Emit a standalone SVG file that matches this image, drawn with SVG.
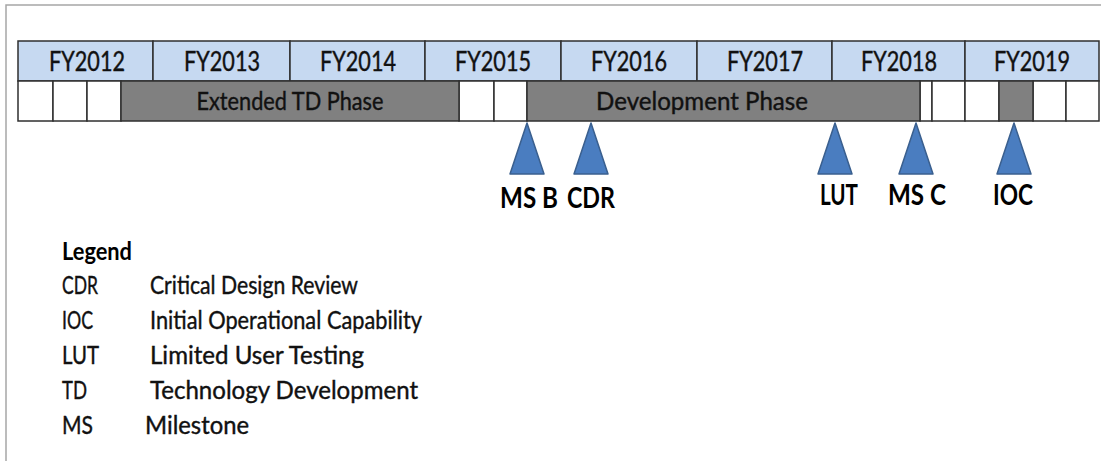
<svg xmlns="http://www.w3.org/2000/svg" width="1101" height="461" viewBox="0 0 1101 461">
<style>
.frame{stroke:#a6a6a6;stroke-width:1.5;fill:none}
.hdr{fill:#c6d9f1;stroke:#2f2f2f;stroke-width:1.5}
.cell{fill:#ffffff;stroke:#2f2f2f;stroke-width:1.5}
.ph{fill:#808080;stroke:#2f2f2f;stroke-width:1.5}
.tri{fill:#4a7dc0;stroke:#3a5f8e;stroke-width:1.5;stroke-linejoin:round}
.yr{font-family:Lato,"Liberation Sans",sans-serif;font-size:26px;fill:#111;stroke:#111;stroke-width:0.4;text-anchor:middle}
.phl{font-family:Lato,"Liberation Sans",sans-serif;font-size:25px;fill:#111;stroke:#111;stroke-width:0.4;text-anchor:middle}
.ms{font-family:Lato,"Liberation Sans",sans-serif;font-size:29px;font-weight:bold;fill:#000;text-anchor:middle}
.lg{font-family:Lato,"Liberation Sans",sans-serif;font-size:25px;fill:#111;stroke:#111;stroke-width:0.4}
.lgb{font-family:Lato,"Liberation Sans",sans-serif;font-size:25px;font-weight:bold;fill:#000}
</style>
<path class="frame" d="M6,461 V5 H1101"/>
<g id="years">
<rect class="hdr" x="18" y="41" width="135" height="40"/>
<rect class="hdr" x="153" y="41" width="137" height="40"/>
<rect class="hdr" x="290" y="41" width="135" height="40"/>
<rect class="hdr" x="425" y="41" width="136" height="40"/>
<rect class="hdr" x="561" y="41" width="136" height="40"/>
<rect class="hdr" x="697" y="41" width="135" height="40"/>
<rect class="hdr" x="832" y="41" width="133" height="40"/>
<rect class="hdr" x="965" y="41" width="134" height="40"/>
<text class="yr" x="87" y="71" textLength="76" lengthAdjust="spacingAndGlyphs">FY2012</text>
<text class="yr" x="222" y="71" textLength="76" lengthAdjust="spacingAndGlyphs">FY2013</text>
<text class="yr" x="358" y="71" textLength="76" lengthAdjust="spacingAndGlyphs">FY2014</text>
<text class="yr" x="493" y="71" textLength="76" lengthAdjust="spacingAndGlyphs">FY2015</text>
<text class="yr" x="629" y="71" textLength="76" lengthAdjust="spacingAndGlyphs">FY2016</text>
<text class="yr" x="765" y="71" textLength="76" lengthAdjust="spacingAndGlyphs">FY2017</text>
<text class="yr" x="899" y="71" textLength="76" lengthAdjust="spacingAndGlyphs">FY2018</text>
<text class="yr" x="1032" y="71" textLength="76" lengthAdjust="spacingAndGlyphs">FY2019</text>
</g>
<g id="quarters">
<rect class="cell" x="18" y="81" width="35" height="40"/>
<rect class="cell" x="53" y="81" width="34" height="40"/>
<rect class="cell" x="87" y="81" width="34" height="40"/>
<rect class="cell" x="459" y="81" width="35" height="40"/>
<rect class="cell" x="494" y="81" width="33" height="40"/>
<rect class="cell" x="920" y="81" width="12" height="40"/>
<rect class="cell" x="932" y="81" width="33" height="40"/>
<rect class="cell" x="965" y="81" width="34" height="40"/>
<rect class="cell" x="1033" y="81" width="33" height="40"/>
<rect class="cell" x="1066" y="81" width="33" height="40"/>
</g>
<g id="extended-td-phase">
<rect class="ph" x="121" y="81" width="338" height="40"/>
<text class="phl" x="290" y="110" textLength="187" lengthAdjust="spacingAndGlyphs">Extended TD Phase</text>
</g>
<g id="development-phase">
<rect class="ph" x="527" y="81" width="393" height="40"/>
<text class="phl" x="702" y="110" textLength="212" lengthAdjust="spacingAndGlyphs">Development Phase</text>
</g>
<g id="ioc-bar">
<rect class="ph" x="999" y="81" width="34" height="40"/>
</g>
<g id="ms-b">
<polygon class="tri" points="527,123 544,174 510,174"/>
<text class="ms" x="529" y="208" textLength="58" lengthAdjust="spacingAndGlyphs">MS B</text>
</g>
<g id="cdr">
<polygon class="tri" points="591,123 608,174 574,174"/>
<text class="ms" x="591" y="208" textLength="48" lengthAdjust="spacingAndGlyphs">CDR</text>
</g>
<g id="lut">
<polygon class="tri" points="835,123 852,174 818,174"/>
<text class="ms" x="839" y="205" textLength="38" lengthAdjust="spacingAndGlyphs">LUT</text>
</g>
<g id="ms-c">
<polygon class="tri" points="916,123 933,174 899,174"/>
<text class="ms" x="917" y="205" textLength="58" lengthAdjust="spacingAndGlyphs">MS C</text>
</g>
<g id="ioc">
<polygon class="tri" points="1014,123 1031,174 997,174"/>
<text class="ms" x="1013" y="205" textLength="40" lengthAdjust="spacingAndGlyphs">IOC</text>
</g>
<g id="legend">
<text class="lgb" x="62" y="260" textLength="70" lengthAdjust="spacingAndGlyphs">Legend</text>
<text class="lg" x="62" y="294" textLength="36" lengthAdjust="spacingAndGlyphs">CDR</text>
<text class="lg" x="150" y="294" textLength="208" lengthAdjust="spacingAndGlyphs">Critical Design Review</text>
<text class="lg" x="62" y="329" textLength="31" lengthAdjust="spacingAndGlyphs">IOC</text>
<text class="lg" x="150" y="329" textLength="272" lengthAdjust="spacingAndGlyphs">Initial Operational Capability</text>
<text class="lg" x="62" y="364" textLength="37" lengthAdjust="spacingAndGlyphs">LUT</text>
<text class="lg" x="150" y="364" textLength="214" lengthAdjust="spacingAndGlyphs">Limited User Testing</text>
<text class="lg" x="62" y="399" textLength="25" lengthAdjust="spacingAndGlyphs">TD</text>
<text class="lg" x="150" y="399" textLength="268" lengthAdjust="spacingAndGlyphs">Technology Development</text>
<text class="lg" x="62" y="434" textLength="31" lengthAdjust="spacingAndGlyphs">MS</text>
<text class="lg" x="145" y="434" textLength="104" lengthAdjust="spacingAndGlyphs">Milestone</text>
</g>
</svg>
